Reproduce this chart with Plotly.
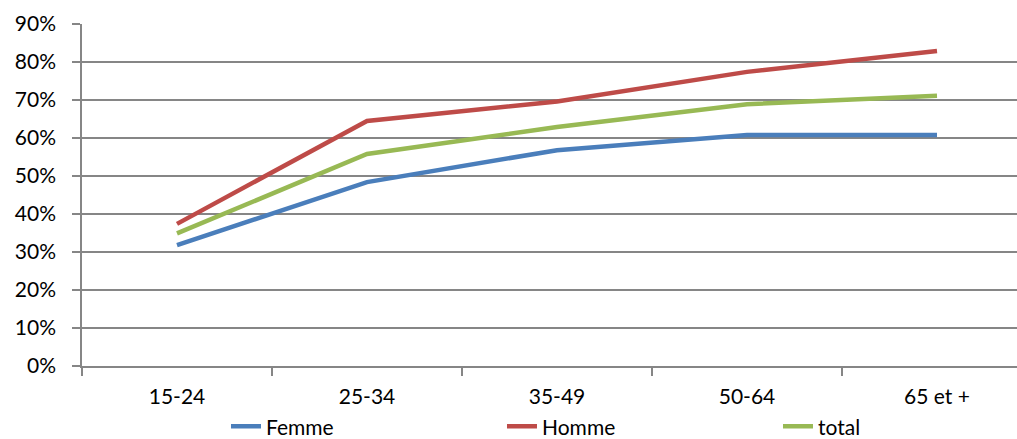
import plotly.graph_objects as go

categories = ["15-24", "25-34", "35-49", "50-64", "65 et +"]
femme = [0.318, 0.484, 0.568, 0.608, 0.608]
homme = [0.374, 0.645, 0.696, 0.774, 0.829]
total = [0.349, 0.558, 0.629, 0.689, 0.711]

series = [("Femme", femme, "#4A7EBB"), ("Homme", homme, "#BE4B48"), ("total", total, "#98B954")]

fig = go.Figure()
for name, vals, color in series:
    fig.add_trace(go.Scatter(x=categories, y=vals, name=name, mode="lines",
                             line=dict(color=color, width=4.5)))

fig.update_layout(
    width=1017, height=439,
    margin=dict(l=82, r=0, t=24, b=73, autoexpand=False),
    paper_bgcolor="white", plot_bgcolor="white",
    font=dict(family="Lato", size=21, color="black"),
    showlegend=True,
    legend=dict(orientation="h", x=0.154, xanchor="left", yref="container", y=0.028,
                yanchor="middle", entrywidth=231, entrywidthmode="pixels", font=dict(size=21),
                bgcolor="rgba(0,0,0,0)", itemwidth=30),
)
fig.update_xaxes(type="category", range=[-0.5, 4.421], showline=True, linecolor="#868686",
                 linewidth=1.5, ticks="outside", tickson="boundaries", ticklen=8,
                 tickcolor="#868686", tickwidth=1.5, showgrid=False, zeroline=False,
                 ticklabelstandoff=11)
fig.update_yaxes(range=[0, 0.9], tickformat=".0%", dtick=0.1, showline=True, linecolor="#868686",
                 linewidth=1.5, ticks="outside", ticklen=8, tickcolor="#868686", tickwidth=1.5,
                 showgrid=True, gridcolor="#868686", gridwidth=1.5, zeroline=False,
                 ticklabelstandoff=12)

fig.write_html("out.html")
